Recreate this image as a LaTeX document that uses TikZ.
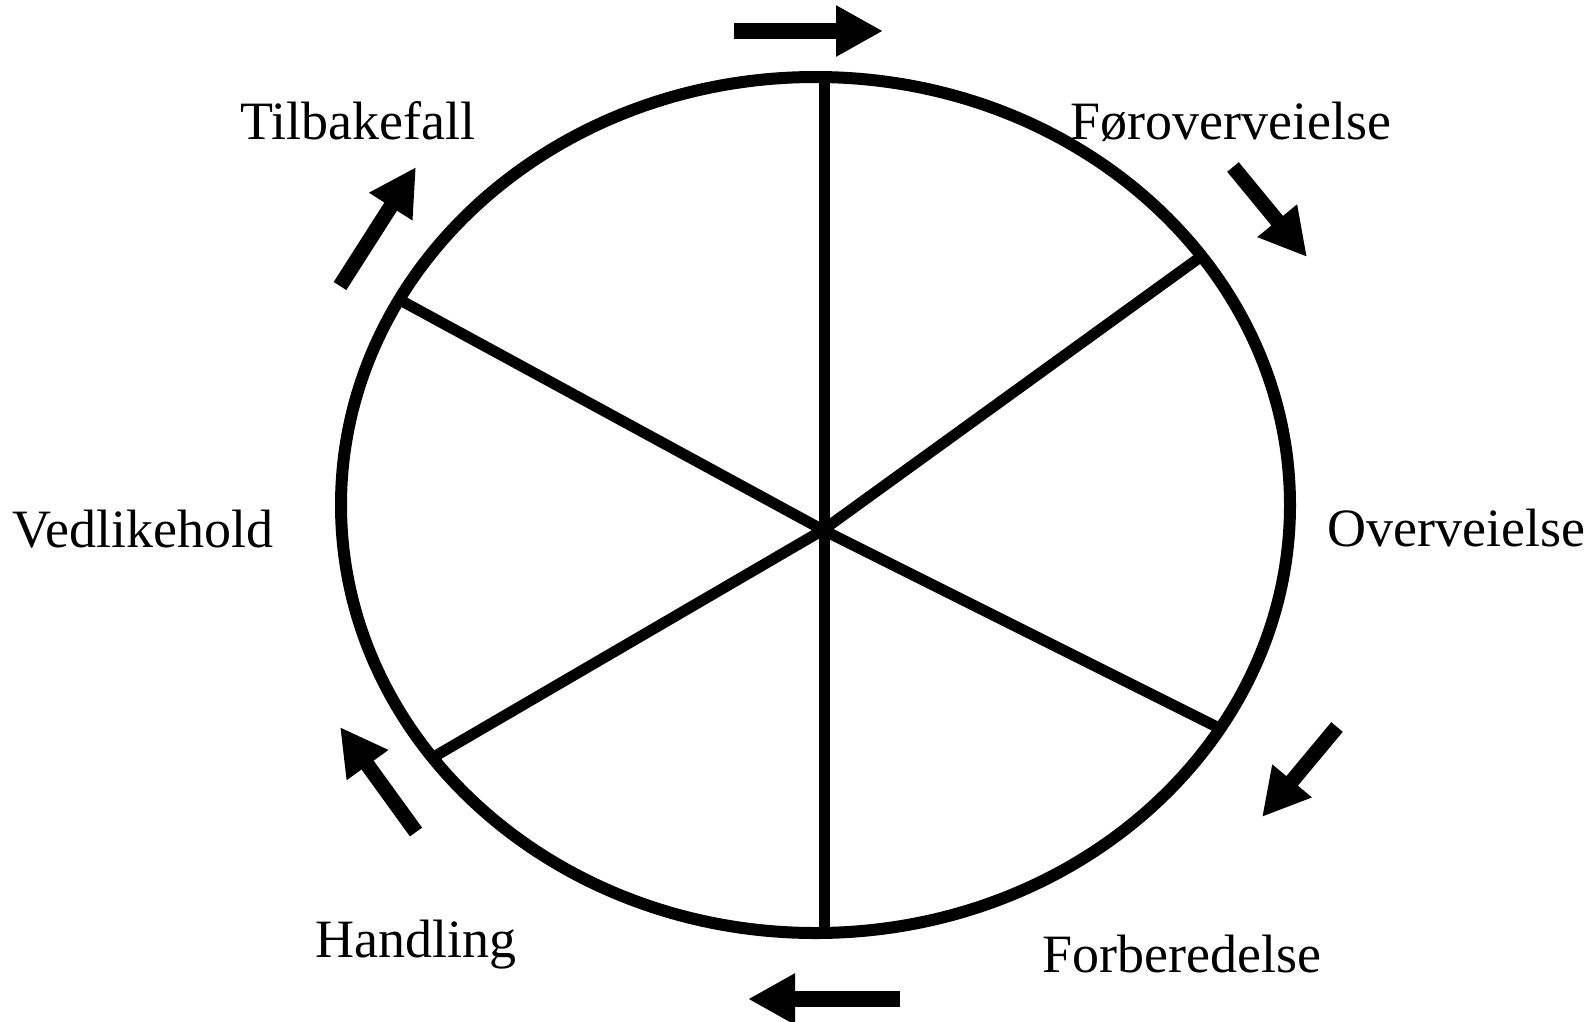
\documentclass[tikz,border=0pt]{standalone}
\usepackage{fontspec}
\setmainfont{Liberation Serif}
\usetikzlibrary{arrows.meta,shapes.geometric}
\begin{document}
\begin{tikzpicture}[x=1pt,y=-1pt,
  spoke/.style={line width=11pt},
  rim/.style={line width=12pt},
  cyclearrow/.style={line width=15pt,-{Triangle[length=47pt,width=48pt]}},
  lbl/.style={inner sep=0pt,anchor=base west,font=\fontsize{54}{60}\selectfont}]
\useasboundingbox (0,0) rectangle (1592,1021);
% centre and rim points
\coordinate (c) at (823,530);
\coordinate (top) at (824,77);
\coordinate (bot) at (824,933);
\coordinate (ul) at (400,300);
\coordinate (ur) at (1199,258);
\coordinate (lr) at (1217,727);
\coordinate (ll) at (437,755);
\draw[spoke] (top) -- (bot);
\draw[spoke] (ul) -- (c) -- (lr);
\draw[spoke] (ur) -- (c) -- (ll);
\node[draw,rim,ellipse,minimum width=949pt,minimum height=856pt,inner sep=0pt] (wheel) at (815.5,505) {};
% arrows
\coordinate (a1s) at (734,31);   \coordinate (a1e) at (883,31);
\coordinate (a2s) at (1233,167); \coordinate (a2e) at (1307,257);
\coordinate (a3s) at (1337,727); \coordinate (a3e) at (1262,817);
\coordinate (a4s) at (900,999);  \coordinate (a4e) at (748,999);
\coordinate (a5s) at (416,832);  \coordinate (a5e) at (340,727);
\coordinate (a6s) at (340,286);  \coordinate (a6e) at (416,167);
\draw[cyclearrow,line width=16pt] (a1s) -- (a1e);
\draw[cyclearrow] (a2s) -- (a2e);
\draw[cyclearrow] (a3s) -- (a3e);
\draw[cyclearrow,line width=16pt] (a4s) -- (a4e);
\draw[cyclearrow] (a5s) -- (a5e);
\draw[cyclearrow] (a6s) -- (a6e);
% labels
\node[lbl] (t1) at (240,139) {Tilbakefall};
\node[lbl] (t2) at (1070,139) {Føroverveielse};
\node[lbl] (t3) at (1327,546) {Overveielse};
\node[lbl] (t4) at (12,547) {Vedlikehold};
\node[lbl] (t5) at (315,957) {Handling};
\node[lbl] (t6) at (1042,972) {Forberedelse};
\end{tikzpicture}
\end{document}
